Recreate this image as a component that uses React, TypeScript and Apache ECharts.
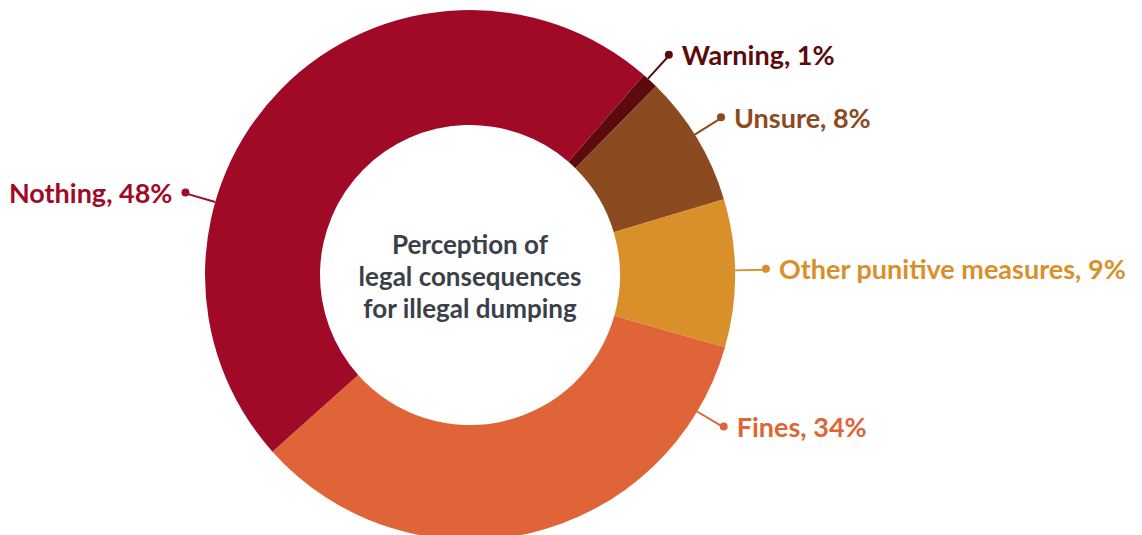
import React, { useEffect, useRef } from "react";
import * as echarts from "echarts";

// ---- data ----
const categories = ["Warning", "Unsure", "Other punitive measures", "Fines", "Nothing"];
const values = [1, 8, 9, 34, 48];
const colors = ["#5C0A0C", "#8C4A20", "#D9902A", "#DF6538", "#A10A26"];
const centerTitle = ["Perception of", "legal consequences", "for illegal dumping"];

// ---- layout / style ----
const CX = 470;
const CY = 275;
const R_IN = 150;
const R_OUT = 265;
const LINE_LEN = 31;
const START_ANGLE = 49;
const LABEL_SIZE = 27;
// optional label anchor angles (deg); null = slice middle
const labelAngleOverride: (number | null)[] = [47.8, 32, 1, -31, 164];
const FONT = "Lato, 'Noto Sans', sans-serif";

function sliceMidAngles(): number[] {
  const total = values.reduce((a, b) => a + b, 0);
  let acc = START_ANGLE;
  return values.map((v) => {
    const span = (v / total) * 360;
    const mid = acc - span / 2;
    acc -= span;
    return mid;
  });
}

export default function App() {
  const ref = useRef<HTMLDivElement>(null);
  useEffect(() => {
    if (!ref.current) return;
    const chart = echarts.init(ref.current, undefined, { renderer: "svg" });
    const mids = sliceMidAngles();
    const angles = mids.map((m, i) => (labelAngleOverride[i] != null ? (labelAngleOverride[i] as number) : m));
    const isLeft = (i: number) => Math.cos((angles[i] * Math.PI) / 180) < 0;

    const data = categories.map((name, i) => ({
      name,
      value: values[i],
      itemStyle: { color: colors[i] },
      label: {
        color: colors[i],
        rich: {
          dot: {
            width: 8,
            height: 8,
            borderRadius: 4,
            backgroundColor: colors[i],
            verticalAlign: "middle",
          },
          nameR: {
            color: colors[i],
            fontFamily: FONT,
            fontWeight: "bold",
            fontSize: LABEL_SIZE,
            padding: [0, 0, 0, 9],
            verticalAlign: "middle",
          },
          nameL: {
            color: colors[i],
            fontFamily: FONT,
            fontWeight: "bold",
            fontSize: LABEL_SIZE,
            padding: [0, 9, 0, 0],
            verticalAlign: "middle",
          },
        },
      },
      labelLine: { lineStyle: { color: colors[i], width: 2 } },
    }));

    chart.setOption({
      animation: false,
      backgroundColor: "#ffffff",
      graphic: [
        {
          type: "text",
          x: CX,
          y: CY + 1,
          style: {
            text: centerTitle.join("\n"),
            fill: "#3B3F4A",
            font: `bold 26px ${FONT}`,
            lineHeight: 32,
            align: "center",
            verticalAlign: "middle",
          },
        },
      ],
      series: [
        {
          type: "pie",
          center: [CX, CY],
          radius: [R_IN, R_OUT],
          startAngle: START_ANGLE,
          clockwise: true,
          avoidLabelOverlap: false,
          data,
          label: {
            show: true,
            position: "outside",
            fontFamily: FONT,
            fontWeight: "bold",
            fontSize: LABEL_SIZE,
            formatter: (p: any) => {
              const txt = `${p.name}, ${p.value}%`;
              return isLeft(p.dataIndex) ? `{nameL|${txt}}{dot| }` : `{dot| }{nameR|${txt}}`;
            },
          },
          labelLine: { show: true, length: 20, length2: 0, smooth: false },
          labelLayout: (params: any) => {
            const i = params.dataIndex;
            const rad = (angles[i] * Math.PI) / 180;
            const c = Math.cos(rad);
            const s = -Math.sin(rad);
            const p0 = [CX + R_OUT * c, CY + R_OUT * s];
            const p1 = [CX + (R_OUT + LINE_LEN) * c, CY + (R_OUT + LINE_LEN) * s];
            const left = c < 0;
            return {
              x: p1[0] + (left ? 4 : -4),
              y: p1[1] - 1,
              align: left ? "right" : "left",
              verticalAlign: "middle",
              labelLinePoints: [p0, p1, p1],
            };
          },
        },
      ],
    });
    return () => chart.dispose();
  }, []);
  return (
    <div
      ref={ref}
      style={{ position: "absolute", left: 0, top: 0, width: 1142, height: 535 }}
    />
  );
}
